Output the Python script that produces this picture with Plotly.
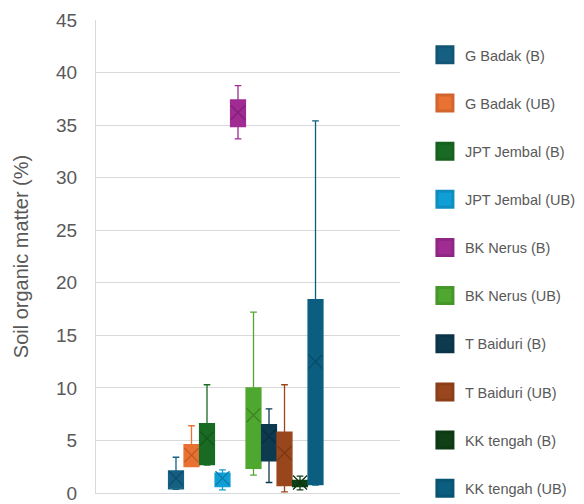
import plotly.graph_objects as go

# Soil organic matter (%) per site, as box-plot summary statistics
names = ["G Badak (B)", "G Badak (UB)", "JPT Jembal (B)", "JPT Jembal (UB)",
         "BK Nerus (B)", "BK Nerus (UB)", "T Baiduri (B)", "T Baiduri (UB)",
         "KK tengah (B)", "KK tengah (UB)"]
lower = [0.35, 2.5, 2.65, 0.3, 33.7, 1.7, 1.0, 0.1, 0.3, 0.75]
q1 = [0.4, 2.5, 2.7, 0.6, 34.85, 2.35, 3.07, 0.7, 0.6, 0.8]
median = [1.2, 3.5, 5.0, 1.2, 36.0, 6.5, 5.0, 3.5, 0.9, 11.0]
q3 = [2.1, 4.6, 6.6, 1.9, 37.4, 10.0, 6.5, 5.8, 1.2, 18.4]
upper = [3.4, 6.4, 10.3, 2.2, 38.75, 17.2, 8.0, 10.3, 1.6, 35.4]
mean = [1.4, 3.6, 5.2, 1.4, 36.2, 7.4, 5.4, 3.8, 1.0, 12.5]

colors = ["#156082", "#E97132", "#196B24", "#0F9ED5", "#A02B93",
          "#4EA72E", "#0E3A50", "#9A461C", "#0F4016", "#0B5E80"]


def darker(hex_color, f=0.75):
    h = hex_color.lstrip("#")
    r, g, b = (int(h[i:i + 2], 16) for i in (0, 2, 4))
    return "#{:02X}{:02X}{:02X}".format(int(r * f), int(g * f), int(b * f))


GREY = "#595959"
GRID = "#D9D9D9"

fig = go.Figure()
positions = list(range(len(names)))

for i, n in enumerate(names):
    c = colors[i]
    fig.add_trace(go.Box(
        x=[positions[i]], q1=[q1[i]], median=[median[i]], q3=[q3[i]],
        lowerfence=[lower[i]], upperfence=[upper[i]],
        name=n, width=0.96, whiskerwidth=0.45,
        fillcolor=c, line=dict(color=c, width=1.3),
        boxpoints=False, showlegend=False, hoverinfo="skip",
    ))
    # mean marker
    fig.add_trace(go.Scatter(
        x=[positions[i]], y=[mean[i]], mode="markers",
        marker=dict(symbol="x-thin", size=14,
                    line=dict(color=darker(c, 0.8), width=1.3)),
        showlegend=False, hoverinfo="skip",
    ))
    # legend entry
    fig.add_trace(go.Scatter(
        x=[None], y=[None], mode="markers", name=n, legendgroup=n,
        marker=dict(symbol="square", size=16, color=c,
                    line=dict(color=darker(c, 0.9), width=3)),
    ))

fig.update_layout(
    width=584, height=504,
    margin=dict(l=96, r=184, t=20, b=11, autoexpand=False),
    paper_bgcolor="white", plot_bgcolor="white",
    font=dict(family="Liberation Sans, Arial, sans-serif", color=GREY),
    showlegend=True,
    legend=dict(
        x=1.082, xanchor="left", y=0.96, yanchor="top",
        font=dict(size=14.5, color=GREY),
        tracegroupgap=26.3, bgcolor="rgba(0,0,0,0)",
        maxheight=800,
    ),
)
fig.update_xaxes(
    range=[-5.16, 14.45], showticklabels=False, showgrid=False,
    zeroline=False, ticks="", showline=True, linecolor=GRID, linewidth=1,
    automargin=False,
)
fig.update_yaxes(
    range=[0, 45], dtick=5, showgrid=True, gridcolor=GRID, gridwidth=1,
    zeroline=False, showline=True, linecolor=GRID, linewidth=1,
    ticks="", ticklabelstandoff=14, automargin=False,
    tickfont=dict(size=19, color=GREY),
    title=dict(text="Soil organic matter (%)", font=dict(size=20, color=GREY),
               standoff=22),
)

fig.write_html("out.html")
